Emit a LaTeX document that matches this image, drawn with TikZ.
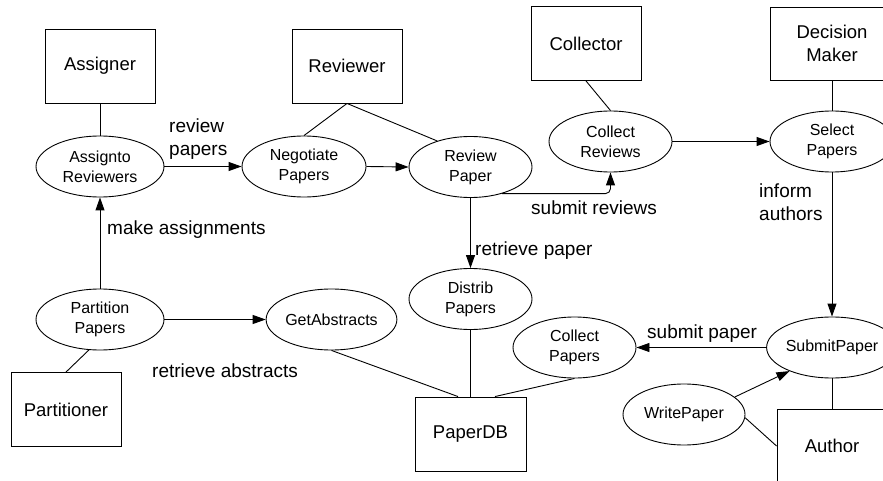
\documentclass[tikz,border=0pt]{standalone}
\usepackage{fontspec}
\setmainfont{Liberation Sans}
\usetikzlibrary{shapes.geometric,arrows.meta}
\tikzset{
  actor/.style={draw, line width=0.9pt, minimum width=110pt, minimum height=74pt, inner sep=0pt, font=\fontsize{18.5}{23}\selectfont, align=center},
  proc/.style={draw, ellipse, line width=0.9pt, minimum width=124pt, minimum height=61pt, inner sep=0pt, font=\fontsize{16}{20}\selectfont, align=center},
  lbl/.style={font=\fontsize{19}{23}\selectfont, align=left, inner sep=0pt},
  conn/.style={line width=0.9pt},
  flow/.style={line width=0.9pt, -{Triangle[length=13pt,width=9pt]}}
}
\begin{document}
\begin{tikzpicture}[x=1pt,y=-1pt]
\useasboundingbox (0,0) rectangle (883,481);
\clip (0,0) rectangle (883,481);
% actors
\node[actor] (Assigner) at (100,66) {Assigner};
\node[actor] (Reviewer) at (347,66) {Reviewer};
\node[actor] (Collector) at (586,43.5) {Collector};
\node[actor, minimum width=124pt, minimum height=73pt] (DM) at (832,43.5) {Decision\\Maker};
\node[actor] (Partitioner) at (66,409.5) {Partitioner};
\node[actor, minimum width=111pt] (PDB) at (470.5,434) {PaperDB};
\node[actor] (Author) at (832,446) {Author};
% processes
\node[proc, minimum width=128pt] (AR) at (100,166.5) {Assignto\\Reviewers};
\node[proc] (NP) at (304,166.5) {Negotiate\\Papers};
\node[proc, minimum width=123pt] (RP) at (470.5,167) {Review\\Paper};
\node[proc, minimum width=123pt] (CR) at (610.5,141.5) {Collect\\Reviews};
\node[proc] (SelP) at (832,141.5) {Select\\Papers};
\node[proc, minimum width=128pt] (PP) at (100,319.5) {Partition\\Papers};
\node[proc, minimum width=127pt] (GA) at (331.5,319.5) {GetAbstracts};
\node[proc, minimum width=123pt] (DP) at (470.5,299) {Distrib\\Papers};
\node[proc, minimum width=123pt] (CP) at (574.5,347.5) {Collect\\Papers};
\node[proc] (SP) at (832,347.5) {SubmitPaper};
\node[proc, minimum width=122pt] (WP) at (684,414.5) {WritePaper};
% labels
\node[lbl, anchor=west] (l1) at (169,139) {review\\papers};
\node[lbl, anchor=west] (l2) at (107,230) {make assignments};
\node[lbl, anchor=west] (l3) at (531,208) {submit reviews};
\node[lbl, anchor=west] (l4) at (475,251) {retrieve paper};
\node[lbl, anchor=west] (l5) at (759,202) {inform\\authors};
\node[lbl, anchor=west] (l6) at (152,371) {retrieve abstracts};
\node[lbl, anchor=west] (l7) at (647,334) {submit paper};
% plain connectors
\draw[conn] (Assigner.south) -- (AR.north);
\draw[conn] (Reviewer.south) -- (NP.north);
\draw[conn] (Reviewer.south) -- (RP.142);
\draw[conn] (Collector.south) -- (CR.north);
\draw[conn] (DM.south) -- (SelP.north);
\draw[conn] (PP.250) -- (Partitioner.north);
\draw[conn] (GA.south) -- ([xshift=-12.5pt]PDB.north);
\draw[conn] (DP.south) -- (PDB.north);
\draw[conn] (CP.south) -- ([xshift=24.5pt]PDB.north);
\draw[conn] (SP.south) -- (Author.north);
\draw[conn] (WP.-3) -- (Author.west);
% flows
\draw[flow] (AR.east) -- (NP.west);
\draw[flow] (NP.east) -- (RP.west);
\draw[flow, rounded corners=5pt] (RP.-40) -| (CR.south);
\draw[flow] (CR.east) -- (SelP.west);
\draw[flow] (SelP.south) -- (SP.north);
\draw[flow] (RP.south) -- (DP.north);
\draw[flow] (PP.north) -- (AR.south);
\draw[flow] (PP.east) -- (GA.west);
\draw[flow] (SP.west) -- (CP.east);
\draw[flow] (WP.19) -- (SP.209);
\end{tikzpicture}
\end{document}
